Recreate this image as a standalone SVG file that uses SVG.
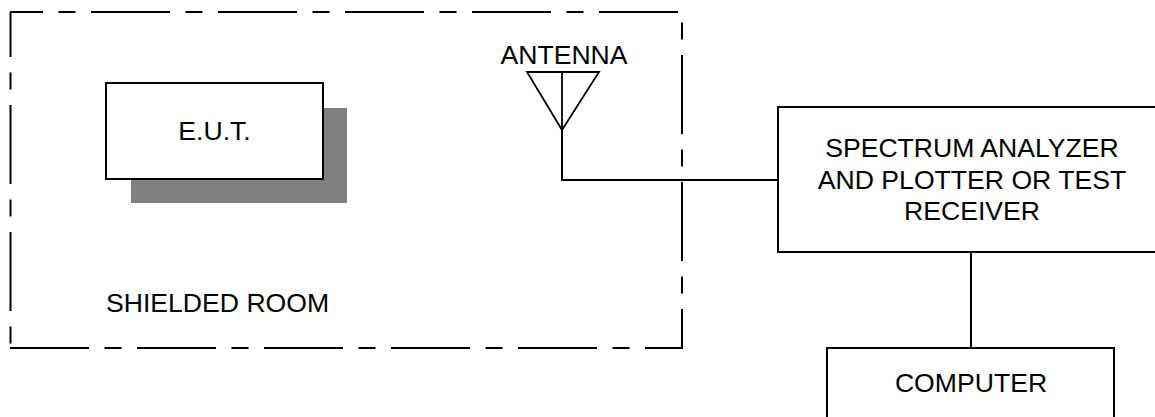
<svg xmlns="http://www.w3.org/2000/svg" width="1155" height="417" viewBox="0 0 1155 417">
<style>
  .frame { fill: none; stroke: #000; stroke-width: 2; stroke-dasharray: 79 15.5 17 15.5; }
  .box { fill: #fff; stroke: #000; stroke-width: 2; }
  .shadow { fill: #808080; stroke: none; }
  .wire { fill: none; stroke: #000; stroke-width: 2; }
  .ant { fill: none; stroke: #000; stroke-width: 1.8; stroke-linejoin: miter; }
  text { font-family: "Liberation Sans", Arial, sans-serif; font-size: 26.6px; fill: #000; }
  .c { text-anchor: middle; }
</style>
<rect width="1155" height="417" fill="#fff"/>
<g id="shielded-room">
  <line class="frame" x1="10" y1="12" x2="682" y2="12" stroke-dashoffset="46"/>
  <line class="frame" x1="10.5" y1="12" x2="10.5" y2="348" stroke-dashoffset="34"/>
  <line class="frame" x1="682" y1="12" x2="682" y2="348" stroke-dashoffset="84"/>
  <line class="frame" x1="10" y1="348" x2="683" y2="348" stroke-dashoffset="0"/>
  <text x="106" y="312">SHIELDED ROOM</text>
</g>
<g id="eut">
  <rect class="shadow" x="131" y="108" width="216" height="95"/>
  <rect class="box" x="106" y="83" width="217" height="96"/>
  <text class="c" x="214.5" y="140">E.U.T.</text>
</g>
<g id="antenna">
  <text class="c" x="564" y="64">ANTENNA</text>
  <polygon class="ant" points="527,72 599,72 562,130"/>
  <line class="ant" x1="562" y1="72" x2="562" y2="130"/>
</g>
<g id="spectrum-analyzer">
  <rect class="box" x="778" y="107" width="400" height="145"/>
  <text class="c" x="972" y="157">SPECTRUM ANALYZER</text>
  <text class="c" x="972" y="189">AND PLOTTER OR TEST</text>
  <text class="c" x="972" y="220">RECEIVER</text>
</g>
<g id="computer">
  <rect class="box" x="827" y="348" width="287" height="90"/>
  <text class="c" x="971" y="392">COMPUTER</text>
</g>
<g id="connectors">
  <polyline class="wire" points="562,130 562,180 778,180"/>
  <line class="wire" x1="971" y1="252" x2="971" y2="348"/>
</g>
</svg>
